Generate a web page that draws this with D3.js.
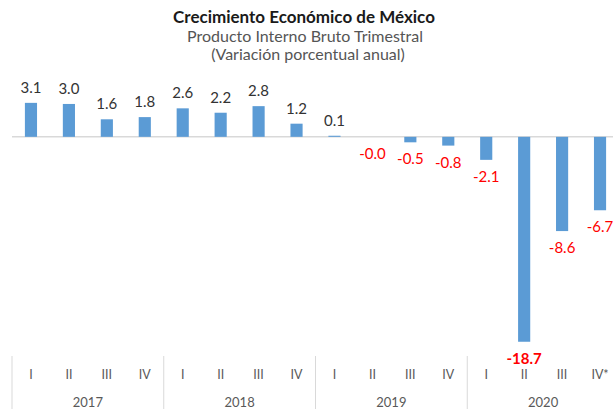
<!DOCTYPE html>
<html lang="es">
<head>
    <meta charset="UTF-8">
    <title>Crecimiento Económico de México</title>
    <style>
        body { margin: 0; background: #fff; }
        .bar { fill: #5b9bd5; }
        text { font-family: Lato, "Open Sans", sans-serif; }
    </style>
    <script src="https://d3js.org/d3.v7.min.js"></script>
</head>
<body>
    <script>
        let quarters = ["I", "II", "III", "IV", "I", "II", "III", "IV", "I", "II", "III", "IV", "I", "II", "III", "IV*"];
        let years = ["2017", "2018", "2019", "2020"];
        let values = [3.1, 3.0, 1.6, 1.8, 2.6, 2.2, 2.8, 1.2, 0.1, -0.0, -0.5, -0.8, -2.1, -18.7, -8.6, -6.7];
        let labels = ["3.1", "3.0", "1.6", "1.8", "2.6", "2.2", "2.8", "1.2", "0.1", "-0.0", "-0.5", "-0.8", "-2.1", "-18.7", "-8.6", "-6.7"];

        let width = 613, height = 409;

        let svg = d3.select("body")
            .append("svg")
            .attr("width", width)
            .attr("height", height);

        // titles
        svg.append("text")
            .attr("x", 304).attr("y", 23)
            .attr("text-anchor", "middle")
            .style("font-size", "17px")
            .style("font-weight", "bold")
            .style("fill", "#1a1a1a")
            .text("Crecimiento Económico de México");
        svg.append("text")
            .attr("x", 305).attr("y", 42)
            .attr("text-anchor", "middle")
            .style("font-size", "16px")
            .style("fill", "#555")
            .text("Producto Interno Bruto Trimestral");
        svg.append("text")
            .attr("x", 308).attr("y", 60)
            .attr("text-anchor", "middle")
            .style("font-size", "16px")
            .style("fill", "#555")
            .text("(Variación porcentual anual)");

        let x = d3.scaleBand()
            .domain(d3.range(values.length))
            .range([12, 619])
            .paddingInner(0.68)
            .paddingOuter(0.34);

        let y = d3.scaleLinear()
            .domain([-20, 4])
            .range([356, 93]);

        // zero line
        svg.append("line")
            .attr("x1", 12).attr("x2", width)
            .attr("y1", y(0)).attr("y2", y(0))
            .attr("stroke", "#d9d9d9")
            .attr("stroke-width", 1.5);

        svg.selectAll(".bar")
            .data(values)
            .enter()
            .append("rect")
            .attr("class", "bar")
            .attr("x", (d, i) => x(i))
            .attr("width", x.bandwidth())
            .attr("y", d => y(Math.max(0, d)))
            .attr("height", d => d === 0 ? 0 : Math.max(1, Math.abs(y(d) - y(0))));

        svg.selectAll(".val")
            .data(values)
            .enter()
            .append("text")
            .attr("class", "val")
            .attr("x", (d, i) => x(i) + x.bandwidth() / 2)
            .attr("y", (d, i) => labels[i].startsWith("-") ? y(d) + 22 : y(d) - 10)
            .attr("text-anchor", "middle")
            .style("font-size", "15px")
            .style("font-weight", d => d < -10 ? "bold" : "normal")
            .style("fill", (d, i) => labels[i].startsWith("-") ? "#ff0000" : "#333")
            .text((d, i) => labels[i]);

        // category axis: quarters and years
        let step = x.step();
        svg.selectAll(".q")
            .data(quarters)
            .enter()
            .append("text")
            .attr("x", (d, i) => x(i) + x.bandwidth() / 2)
            .attr("y", 379)
            .attr("text-anchor", "middle")
            .style("font-size", "12.5px")
            .style("fill", "#595959")
            .text(d => d);

        svg.selectAll(".sep")
            .data(years)
            .enter()
            .append("line")
            .attr("x1", (d, i) => x(i * 4) - (step - x.bandwidth()) / 2)
            .attr("x2", (d, i) => x(i * 4) - (step - x.bandwidth()) / 2)
            .attr("y1", 356).attr("y2", height)
            .attr("stroke", "#d9d9d9")
            .attr("stroke-width", 1);

        svg.selectAll(".yr")
            .data(years)
            .enter()
            .append("text")
            .attr("x", (d, i) => (x(i * 4) + x(i * 4 + 3) + x.bandwidth()) / 2)
            .attr("y", 407)
            .attr("text-anchor", "middle")
            .style("font-size", "13px")
            .style("fill", "#595959")
            .text(d => d);
    </script>
</body>
</html>
